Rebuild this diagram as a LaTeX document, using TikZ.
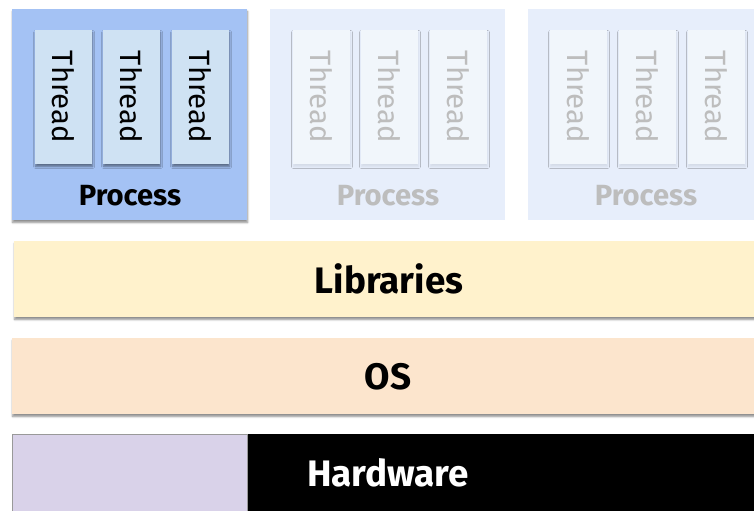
\documentclass[tikz,border=0pt]{standalone}
\usepackage{fontspec}
\setmainfont{Fira Sans}
\usetikzlibrary{shadows,shadows.blur}
\definecolor{procblue}{HTML}{A4C2F4}
\definecolor{thrblue}{HTML}{CFE2F3}
\definecolor{procfade}{HTML}{E7EEFB}
\definecolor{thrfade}{HTML}{F1F6FB}
\definecolor{textfade}{HTML}{BDBDBD}
\definecolor{libyellow}{HTML}{FFF2CC}
\definecolor{osorange}{HTML}{FCE5CD}
\definecolor{hwpurple}{HTML}{D9D2E9}
\tikzset{
  shad/.style={blur shadow={shadow xshift=0.6pt, shadow yshift=-2.5pt, shadow opacity=45, shadow blur steps=5, shadow blur radius=2pt, shadow blur extra rounding=0pt}},
  faintshad/.style={blur shadow={shadow xshift=0.5pt, shadow yshift=-2.5pt, shadow opacity=8, shadow blur steps=4, shadow blur radius=2pt, shadow blur extra rounding=0pt}},
  procbox/.style={rectangle, inner sep=0, outer sep=0, minimum width=235bp, minimum height=211bp, anchor=north west},
  thrbox/.style={rectangle, inner sep=0, outer sep=0, minimum width=57bp, minimum height=134bp, anchor=north west},
  thrtext/.style={font=\fontsize{29.5}{31}\selectfont, rotate=-90},
  proctext/.style={font=\fontsize{29.3}{31}\selectfont\bfseries},
  layer/.style={rectangle, inner sep=0, outer sep=0, minimum width=752bp, minimum height=76bp, anchor=north west},
  layertext/.style={font=\fontsize{37}{40}\selectfont\bfseries},
}
\begin{document}
\begin{tikzpicture}[x=1bp,y=-1bp]
\useasboundingbox (0,0) rectangle (754,511);
\clip (0,0) rectangle (754,511);
% processes
\node[procbox, fill=procblue, shad] (p1) at (12,9) {};
\node[procbox, fill=procfade] (p2) at (270,9) {};
\node[procbox, fill=procfade] (p3) at (528,9) {};
% threads
\foreach \i/\x in {1/35,2/103,3/172}{
  \node[thrbox, fill=thrblue, shad] (t1\i) at (\x,30) {};
  \node[thrtext] at (t1\i.center) {Thread};
}
\foreach \i/\x in {1/293,2/361,3/430}{
  \node[thrbox, fill=thrfade, faintshad] (t2\i) at (\x,30) {};
  \node[thrtext, text=textfade] at (t2\i.center) {Thread};
}
\foreach \i/\x in {1/550,2/619,3/688}{
  \node[thrbox, fill=thrfade, faintshad] (t3\i) at (\x,30) {};
  \node[thrtext, text=textfade] at (t3\i.center) {Thread};
}
\node[proctext] (pl1) at (130,196) {Process};
\node[proctext, text=textfade] (pl2) at (388,196) {Process};
\node[proctext, text=textfade] (pl3) at (646,196) {Process};
% layers
\node[layer, fill=libyellow, shad] (lib) at (14,241) {};
\node[layertext] at (389,279) {Libraries};
\node[layer, fill=osorange, shad] (os) at (12,338) {};
\node[layertext] at (388,377) {OS};
\node[layer, fill=black, minimum height=80bp] (hw) at (12,434) {};
\node[rectangle, inner sep=0, outer sep=0, minimum width=235bp, minimum height=80bp, anchor=north west, fill=hwpurple, draw=black!40, line width=0.6bp] (hwp) at (12,434) {};
\node[layertext, text=white] at (388,473) {Hardware};
\end{tikzpicture}
\end{document}
